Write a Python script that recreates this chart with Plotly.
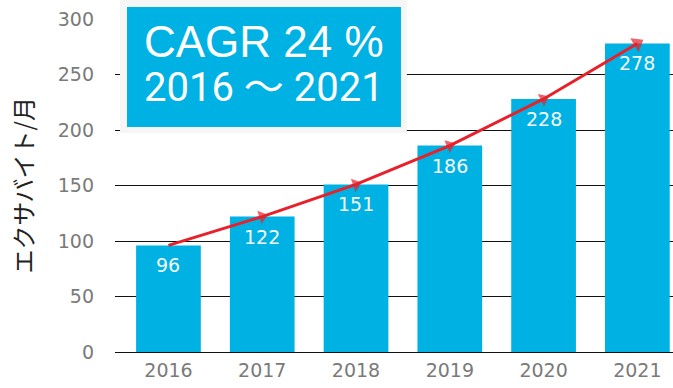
import plotly.graph_objects as go

# Monthly traffic (exabytes / month), 2016-2021
years = ["2016", "2017", "2018", "2019", "2020", "2021"]
traffic = [96, 122, 151, 186, 228, 278]
y_ticks = [0, 50, 100, 150, 200, 250, 300]
y_title = "エクサバイト/月"
cagr_line1 = "CAGR 24 %"
cagr_line2 = "2016 ～ 2021"

BLUE = "#00b2e3"
RED = "#e8202a"
TICK_GREY = "#7a7a7a"
NUM_FONT = "DejaVu Sans, sans-serif"

cat_idx = list(range(len(years)))

fig = go.Figure()

fig.add_trace(go.Bar(
    x=cat_idx, y=traffic, width=0.69,
    marker=dict(color=BLUE, line=dict(width=0)),
    hoverinfo="skip",
))

# growth trend arrow along the bar tops
fig.add_trace(go.Scatter(
    x=cat_idx, y=traffic,
    mode="lines+markers",
    line=dict(color=RED, width=3),
    marker=dict(symbol="triangle-up", angleref="previous",
                size=[0, 12, 12, 12, 12, 14], color=RED,
                line=dict(width=0)),
    hoverinfo="skip",
))

annotations = []
for i, v in zip(cat_idx, traffic):
    annotations.append(dict(
        x=i, y=v, xref="x", yref="y", text=str(v), showarrow=False,
        yanchor="top", yshift=-7,
        font=dict(family=NUM_FONT, size=19, color="#f4f8fb"),
    ))

annotations.append(dict(
    x=-0.165, y=0.5, xref="paper", yref="paper", text=y_title,
    showarrow=False, textangle=-90, xanchor="center", yanchor="middle",
    font=dict(family="Noto Sans CJK JP", size=24, color="#222222"),
))

# CAGR call-out box
box_x0, box_x1 = 0.0215, 0.5125
box_y0, box_y1 = 0.676, 1.036
annotations.append(dict(
    x=(box_x0 + box_x1) / 2, y=0.931, xref="paper", yref="paper",
    text=cagr_line1, showarrow=False, xanchor="center", yanchor="middle",
    font=dict(family="Liberation Sans, Arial, sans-serif", size=44,
              color="white"),
))
annotations.append(dict(
    x=(box_x0 + box_x1) / 2, y=0.793, xref="paper", yref="paper",
    text=cagr_line2, showarrow=False, xanchor="center", yanchor="middle",
    font=dict(family="Roboto, Noto Sans CJK JP, sans-serif", size=40,
              color="white"),
))

shapes = [
    dict(type="rect", xref="paper", yref="paper", layer="above",
         x0=0.009, x1=0.523, y0=0.658, y1=1.06,
         fillcolor="#f6f6f6", line=dict(width=0)),
    dict(type="rect", xref="paper", yref="paper", layer="above",
         x0=box_x0, x1=box_x1, y0=box_y0, y1=box_y1,
         fillcolor=BLUE, line=dict(width=0)),
]

fig.update_layout(
    width=673, height=388,
    margin=dict(l=115, r=0, t=19, b=36),
    paper_bgcolor="white", plot_bgcolor="white",
    showlegend=False,
    bargap=0.3,
    xaxis=dict(
        tickmode="array", tickvals=cat_idx, ticktext=years,
        range=[-0.57, 5.38], showgrid=False, zeroline=False,
        showline=False, ticks="", ticklabelstandoff=5,
        tickfont=dict(family=NUM_FONT, size=19, color=TICK_GREY),
        fixedrange=True,
    ),
    yaxis=dict(
        range=[0, 300], tickvals=y_ticks,
        showgrid=True, gridcolor="#111111", gridwidth=1,
        zeroline=True, zerolinecolor="#111111", zerolinewidth=1,
        showline=False, ticks="", ticklabelstandoff=20,
        tickfont=dict(family=NUM_FONT, size=19, color=TICK_GREY),
        fixedrange=True,
    ),
    annotations=annotations,
    shapes=shapes,
)

fig.write_html("out.html")
